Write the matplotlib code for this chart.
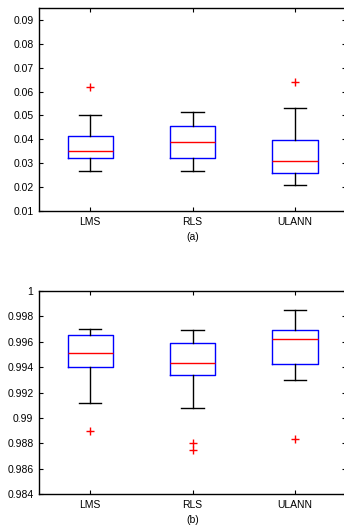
import matplotlib
matplotlib.use("Agg")
import matplotlib.pyplot as plt

plt.rcParams['font.family'] = ['Liberation Sans', 'DejaVu Sans']

methods = ['LMS', 'RLS', 'ULANN']

# panel (a): whisker low, Q1, median, Q3, whisker high, outliers
a_low = [0.0269, 0.0268, 0.0208]
a_q1 = [0.0320, 0.0320, 0.0261]
a_med = [0.0351, 0.0390, 0.0310]
a_q3 = [0.0413, 0.0455, 0.0398]
a_high = [0.0500, 0.0516, 0.0531]
a_out = [[0.0618], [], [0.0640]]

# panel (b)
b_low = [0.9912, 0.9908, 0.9930]
b_q1 = [0.9940, 0.99335, 0.99425]
b_med = [0.99515, 0.9943, 0.9962]
b_q3 = [0.99655, 0.9959, 0.9969]
b_high = [0.9970, 0.9969, 0.9985]
b_out = [[0.9890], [0.9880, 0.98745], [0.98835]]


def make_stats(low, q1, med, q3, high, out):
    stats = []
    for i in range(len(methods)):
        stats.append({'whislo': low[i], 'q1': q1[i], 'med': med[i], 'q3': q3[i],
                      'whishi': high[i], 'fliers': out[i], 'label': methods[i]})
    return stats


def draw_panel(ax, stats, ylim, yticks, yticklabels, caption):
    ax.bxp(stats, positions=[1, 2, 3], widths=0.44, showfliers=True,
           boxprops=dict(color='blue', linewidth=1.0),
           medianprops=dict(color='red', linewidth=1.0),
           whiskerprops=dict(color='black', linewidth=1.0),
           capprops=dict(color='black', linewidth=1.0),
           capwidths=0.22,
           flierprops=dict(marker='+', markeredgecolor='red', markersize=6,
                           markeredgewidth=1.0, linestyle='none'))
    ax.set_xlim(0.5, 3.5)
    ax.set_ylim(*ylim)
    ax.set_yticks(yticks)
    ax.set_yticklabels(yticklabels)
    ax.set_xticks([1, 2, 3])
    ax.set_xticklabels(methods)
    ax.tick_params(direction='in', length=3, width=0.8, top=True, right=True,
                   labelsize=7.5, pad=4)
    for s in ax.spines.values():
        s.set_linewidth(1.0)
    ax.set_xlabel(caption, fontsize=7.5, labelpad=4)


fig = plt.figure(figsize=(3.44, 5.26), dpi=100)

ax1 = fig.add_axes([0.1134, 0.5989, 0.893, 0.3859])
draw_panel(ax1, make_stats(a_low, a_q1, a_med, a_q3, a_high, a_out),
           (0.01, 0.095),
           [0.01, 0.02, 0.03, 0.04, 0.05, 0.06, 0.07, 0.08, 0.09],
           ['0.01', '0.02', '0.03', '0.04', '0.05', '0.06', '0.07', '0.08', '0.09'],
           '(a)')

ax2 = fig.add_axes([0.1134, 0.0608, 0.893, 0.386])
draw_panel(ax2, make_stats(b_low, b_q1, b_med, b_q3, b_high, b_out),
           (0.984, 1.0),
           [0.984, 0.986, 0.988, 0.99, 0.992, 0.994, 0.996, 0.998, 1.0],
           ['0.984', '0.986', '0.988', '0.99', '0.992', '0.994', '0.996', '0.998', '1'],
           '(b)')

fig.savefig('out.png', dpi=100)
